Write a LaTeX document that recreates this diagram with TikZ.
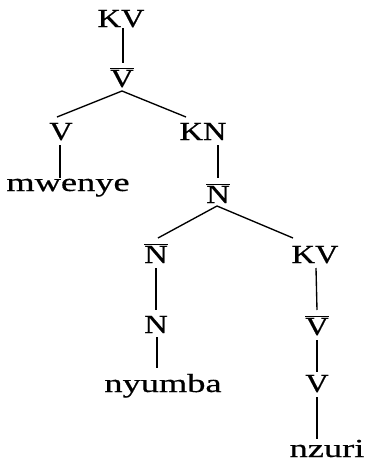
\documentclass[tikz,border=0pt]{standalone}
\usepackage{fontspec}
\setmainfont{Liberation Serif}[FakeBold=0.5]
\usetikzlibrary{calc}
\newcommand{\capstr}[1]{\scalebox{1.25}[1]{#1}}
\newcommand{\wordstr}[1]{\scalebox{1.4}[1]{#1}}
\newcommand{\barred}[1]{\capstr{$\overline{\mbox{#1}}$}}
\tikzset{
  lab/.style={inner sep=0pt, anchor=base, font=\fontsize{26}{30}\selectfont},
  branch/.style={line width=1.35pt, black}
}
\begin{document}
\begin{tikzpicture}[x=1pt,y=-1pt]
\useasboundingbox (0,0) rectangle (370,464);
% nodes (positions are baselines)
\node[lab] (KV)  at (121,27)  {\capstr{KV}};
\node[lab] (Vt)  at (122,87)  {\barred{V}};
\node[lab] (Vl)  at (61,140)  {\capstr{V}};
\node[lab] (mw)  at (68,191)  {\wordstr{mwenye}};
\node[lab] (KN)  at (203,140) {\capstr{KN}};
\node[lab] (Nb)  at (218,203) {\barred{N}};
\node[lab] (Nbl) at (156,263) {\barred{N}};
\node[lab] (KVr) at (315,263) {\capstr{KV}};
\node[lab] (Nl)  at (156,333) {\capstr{N}};
\node[lab] (ny)  at (163,392) {\wordstr{nyumba}};
\node[lab] (Vbr) at (317,335) {\barred{V}};
\node[lab] (Vr)  at (317,392) {\capstr{V}};
\node[lab] (nz)  at (327,457) {\wordstr{nzuri}};
% connectors
\draw[branch] ($(KV.base)+(2,1)$) -- ($(Vt.base)+(1,-24)$);
\draw[branch] ($(Vl.base)+(-4,-23)$) -- ($(Vt.base)+(0,4)$) -- ($(KN.base)+(-17,-23)$);
\draw[branch] ($(Vl.base)+(-1,5)$) -- ($(mw.base)+(-8,-13)$);
\draw[branch] ($(KN.base)+(15,5)$) -- ($(Nb.base)+(0,-25)$);
\draw[branch] ($(Nbl.base)+(2,-25)$) -- ($(Nb.base)+(-1,3)$) -- ($(KVr.base)+(-22,-25)$);
\draw[branch] ($(Nbl.base)+(0,5)$) -- ($(Nl.base)+(0,-23)$);
\draw[branch] ($(Nl.base)+(1,4)$) -- ($(ny.base)+(-6,-24)$);
\draw[branch] ($(KVr.base)+(1,5)$) -- ($(Vbr.base)+(0,-25)$);
\draw[branch] ($(Vbr.base)+(0,5)$) -- ($(Vr.base)+(0,-20)$);
\draw[branch] ($(Vr.base)+(0,5)$) -- ($(nz.base)+(-10,-18)$);
\end{tikzpicture}
\end{document}
